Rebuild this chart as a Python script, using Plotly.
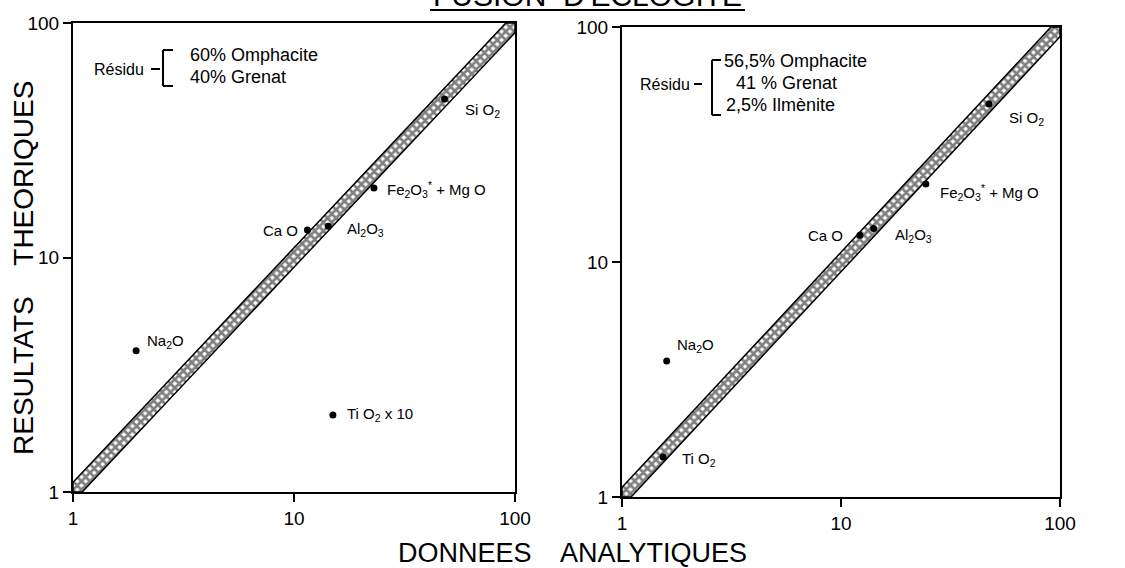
import math
import plotly.graph_objects as go

# ---------------- data ----------------
labels_left = ["Si O<sub>2</sub>", "Fe<sub>2</sub>O<sub>3</sub><sup>*</sup> + Mg O", "Al<sub>2</sub>O<sub>3</sub>",
               "Ca O", "Na<sub>2</sub>O", "Ti O<sub>2</sub> x 10"]
x_left = [48.0, 23.0, 14.3, 11.5, 1.93, 15.0]
y_left = [47.4, 19.8, 13.6, 13.1, 4.0, 2.13]

labels_right = ["Si O<sub>2</sub>", "Fe<sub>2</sub>O<sub>3</sub><sup>*</sup> + Mg O", "Al<sub>2</sub>O<sub>3</sub>",
                "Ca O", "Na<sub>2</sub>O", "Ti O<sub>2</sub>"]
x_right = [47.4, 24.4, 14.1, 12.2, 1.60, 1.54]
y_right = [47.0, 21.5, 13.9, 13.0, 3.79, 1.48]

tick_vals = [1, 10, 100]
tick_text = ["1", "10", "100"]

residu_left = ["60% Omphacite", "40% Grenat"]
residu_right = ["56,5% Omphacite", "41 % Grenat", "2,5% Ilmènite"]

title_text = "FUSION  D'ECLOGITE"
xtitle = "DONNEES    ANALYTIQUES"
ytitle = "RESULTATS    THEORIQUES"

# label placement (style): anchor, xshift, yshift in pixels
lab_style_left = [("left", 18, -11), ("left", 11, -2), ("left", 17, -3),
                  ("right", -7, 0), ("left", 9, 9), ("left", 12, 0)]
lab_style_right = [("left", 18, -14), ("left", 12, -9), ("left", 19, -7),
                   ("right", -15, 0), ("left", 8, 16), ("left", 17, -3)]

# ---------------- figure ----------------
W, H = 1125, 568
FONT = "Liberation Sans"


def px(x, y):
    return x / W, 1 - y / H


k = 1.1  # band half-width factor (style)
band_x = [1, 1, 100 / k, 100, 100, k, 1]
band_y = [1, k, 100, 100, 100 / k, 1, 1]

fig = go.Figure()

for xa, ya in [("x", "y"), ("x2", "y2")]:
    fig.add_trace(go.Scatter(
        x=band_x, y=band_y, xaxis=xa, yaxis=ya, mode="lines", fill="toself",
        line=dict(color="black", width=1.5),
        fillcolor="white",
        fillpattern=dict(shape="x", fgcolor="black", bgcolor="white", size=6, solidity=0.7),
        hoverinfo="skip", showlegend=False))

fig.add_trace(go.Scatter(
    x=x_left, y=y_left, xaxis="x", yaxis="y", mode="markers",
    marker=dict(color="black", size=7), showlegend=False, cliponaxis=False))

fig.add_trace(go.Scatter(
    x=x_right, y=y_right, xaxis="x2", yaxis="y2", mode="markers",
    marker=dict(color="black", size=7), showlegend=False, cliponaxis=False))

axis_common = dict(
    type="log", range=[0, 2], showgrid=False, zeroline=False, automargin=False,
    showline=True, linecolor="black", linewidth=2, mirror=True,
    ticks="outside", ticklen=8, tickwidth=1.5, tickcolor="black",
    tickvals=tick_vals, ticktext=tick_text,
    tickfont=dict(family=FONT, size=19, color="black"),
)

xl0, yl1 = px(73, 23)
xl1, yl0 = px(515, 492)
xr0, yr1 = px(622, 27)
xr1, yr0 = px(1060, 497)

fig.update_layout(
    width=W, height=H,
    margin=dict(l=0, r=0, t=0, b=0, pad=0, autoexpand=False),
    paper_bgcolor="white", plot_bgcolor="white",
    xaxis=dict(domain=[xl0, xl1], anchor="y", **axis_common),
    yaxis=dict(domain=[yl0, yl1], anchor="x", **axis_common),
    xaxis2=dict(domain=[xr0, xr1], anchor="y2", **axis_common),
    yaxis2=dict(domain=[yr0, yr1], anchor="x2", **axis_common),
    font=dict(family=FONT, color="black"),
)

ann = []
shapes = []

# point labels
for labs, xs, ys, styles, xr, yr in [(labels_left, x_left, y_left, lab_style_left, "x", "y"),
                                      (labels_right, x_right, y_right, lab_style_right, "x2", "y2")]:
    for t, xv, yv, (anc, dx, dy) in zip(labs, xs, ys, styles):
        ann.append(dict(text=t, x=math.log10(xv), y=math.log10(yv), xref=xr, yref=yr,
                        xanchor=anc, yanchor="middle", xshift=dx, yshift=dy, showarrow=False,
                        font=dict(family=FONT, size=15, color="black")))

# title (cut off at top) and underline
tx, ty = px(588, 14)
ann.append(dict(text=title_text, x=tx, y=ty, xref="paper", yref="paper",
                xanchor="center", yanchor="bottom", showarrow=False,
                font=dict(family=FONT, size=30, color="black")))
ux0, uy = px(430, 10)
ux1, _ = px(745, 10)
shapes.append(dict(type="line", xref="paper", yref="paper", x0=ux0, x1=ux1, y0=uy, y1=uy,
                   line=dict(color="black", width=2)))

# axis titles
ax_, ay_ = px(572, 553)
ann.append(dict(text=xtitle, x=ax_, y=ay_, xref="paper", yref="paper",
                xanchor="center", yanchor="middle", showarrow=False,
                font=dict(family=FONT, size=27, color="black")))
bx_, by_ = px(23, 268)
ann.append(dict(text=ytitle, x=bx_, y=by_, xref="paper", yref="paper",
                xanchor="center", yanchor="middle", showarrow=False, textangle=-90,
                font=dict(family=FONT, size=28, color="black")))


def line(x0, y0, x1, y1, w=2):
    a0, b0 = px(x0, y0)
    a1, b1 = px(x1, y1)
    shapes.append(dict(type="line", xref="paper", yref="paper", x0=a0, y0=b0, x1=a1, y1=b1,
                       line=dict(color="black", width=w)))


def text(t, x, y, anchor="left", size=17):
    a, b = px(x, y)
    ann.append(dict(text=t, x=a, y=b, xref="paper", yref="paper", xanchor=anchor,
                    yanchor="middle", showarrow=False,
                    font=dict(family=FONT, size=size, color="black")))


# left residue bracket
text("Résidu", 92, 69, size=16)
line(151, 69, 160, 69)
line(163, 50, 163, 86)
line(163, 50, 173, 50)
line(163, 86, 173, 86)
text(residu_left[0], 188, 55, size=18)
text(residu_left[1], 188, 77, size=18)

# right residue bracket
text("Résidu", 638, 84, size=16)
line(694, 84, 702, 84)
line(712, 60, 712, 115)
line(712, 60, 721, 60)
line(712, 115, 721, 115)
text(residu_right[0], 722, 61, size=18)
text(residu_right[1], 786, 83, anchor="center", size=18)
text(residu_right[2], 724, 105, size=18)

fig.update_layout(annotations=ann, shapes=shapes)

fig.write_html("out.html", config={"displayModeBar": False},
               post_script="document.body.style.margin='0';document.body.style.overflow='hidden';")
